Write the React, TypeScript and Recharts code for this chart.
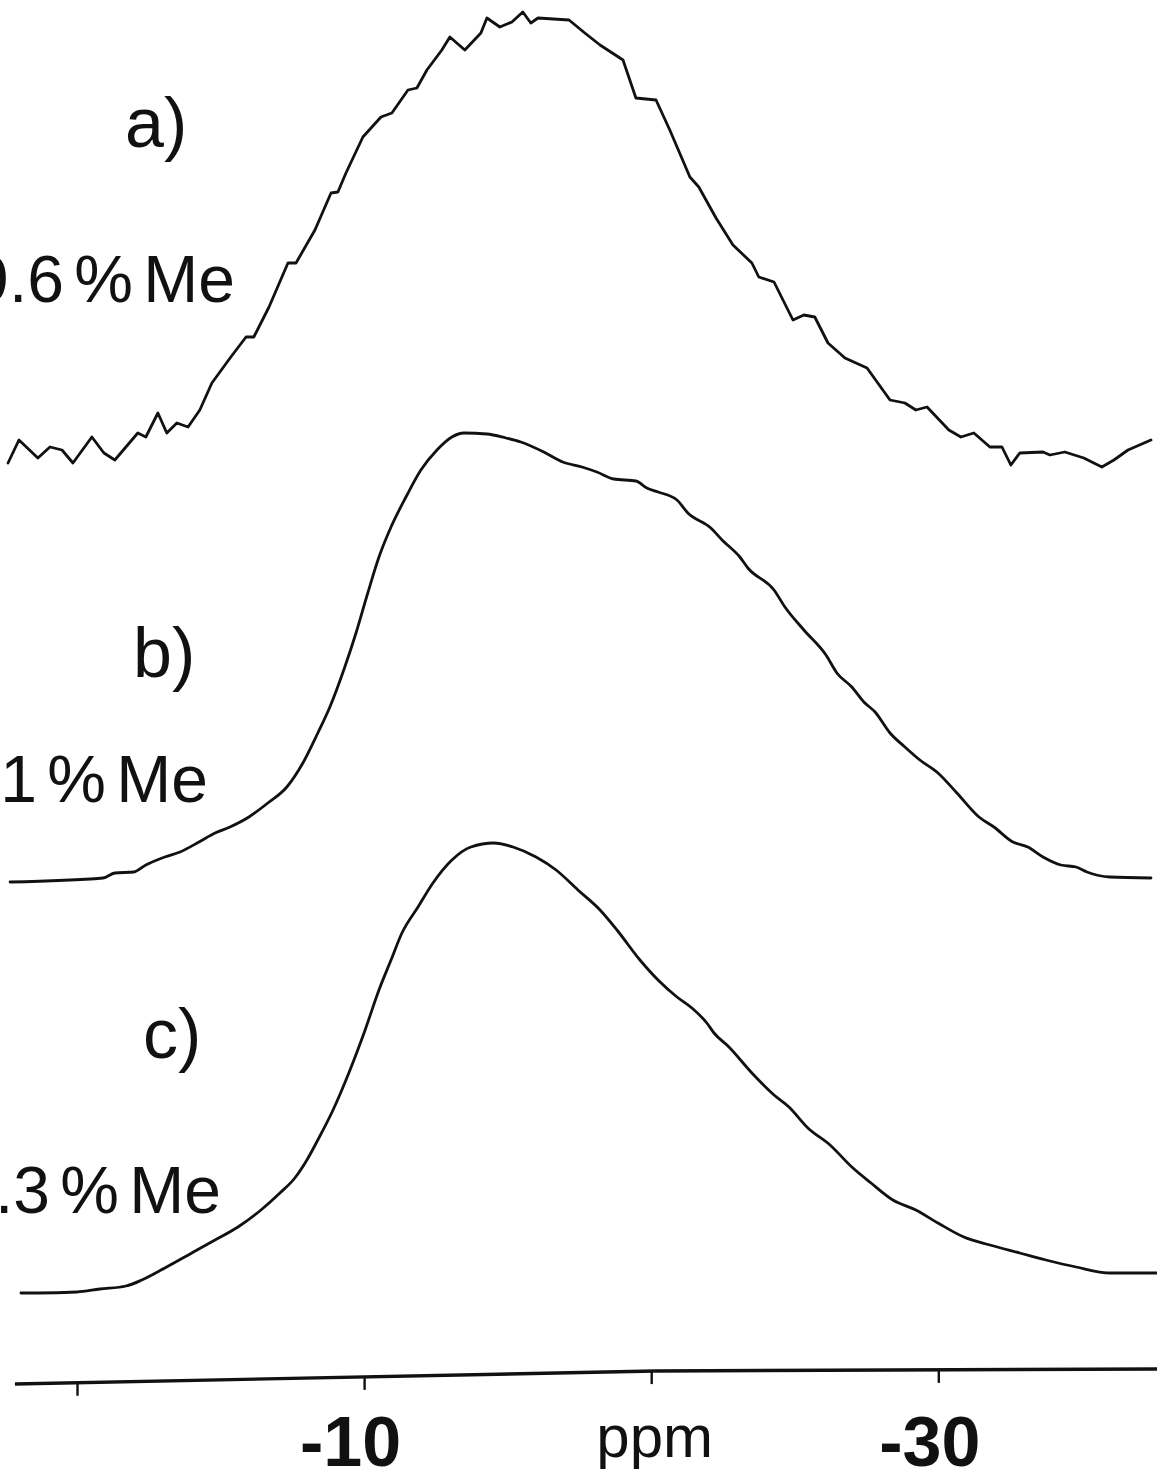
import { LineChart, Line, XAxis, YAxis, ReferenceLine, Customized } from "recharts"

// chemical shift (ppm) and trace height for each spectrum, left to right
const A_PPM = [2.42, 2.04, 1.38, 0.96, 0.54, 0.16, -0.5, -0.92, -1.3, -2.1, -2.38, -2.8, -3.11, -3.46, -3.85, -4.26, -4.68, -5.34, -5.87, -6.14, -6.67, -7.33, -7.61, -8.27, -8.83, -9.07, -9.35, -9.94, -10.57, -10.95, -11.51, -11.82, -12.17, -12.69, -12.97, -13.49, -14.05, -14.26, -14.71, -15.13, -15.51, -15.79, -16.04, -17.12, -17.67, -18.2, -19.0, -19.45, -20.15, -20.63, -21.33, -21.64, -22.24, -22.83, -23.49, -23.73, -24.26, -24.92, -25.3, -25.68, -26.14, -26.73, -27.5, -28.3, -28.82, -29.2, -29.59, -30.35, -30.77, -31.22, -31.78, -32.2, -32.51, -32.82, -33.63, -33.87, -34.39, -35.05, -35.68, -36.1, -36.59, -37.39]
const A_INT = [-8, 15, -3, 8, 5, -8, 18, 2, -5, 22, 18, 42, 22, 32, 28, 45, 72, 98, 118, 118, 148, 192, 192, 225, 262, 263, 282, 318, 338, 342, 365, 367, 385, 405, 418, 405, 422, 437, 428, 433, 443, 432, 437, 435, 422, 410, 395, 357, 355, 325, 278, 268, 237, 210, 192, 178, 173, 135, 140, 138, 112, 97, 87, 55, 52, 45, 48, 25, 18, 22, 8, 8, -10, 2, 3, 0, 3, -3, -12, -5, 5, 15]

const B_PPM = [2.35, -0.89, -1.3, -1.96, -2.38, -3.04, -3.57, -4.23, -4.79, -5.31, -5.97, -6.63, -7.29, -7.85, -8.37, -8.79, -9.31, -9.7, -10.11, -10.5, -10.92, -11.44, -11.96, -12.52, -13.04, -13.46, -14.26, -14.92, -15.44, -16.24, -16.9, -17.57, -18.09, -18.68, -19.45, -19.83, -20.22, -20.88, -21.26, -22.06, -22.45, -23.07, -23.35, -24.26, -24.64, -25.3, -26.07, -26.45, -26.97, -27.39, -27.78, -28.3, -28.82, -29.34, -29.97, -30.63, -31.4, -31.92, -32.58, -33.1, -33.63, -34.25, -34.78, -35.16, -35.96, -37.39]
const B_INT = [-2, 2, 7, 8, 15, 23, 28, 38, 47, 53, 63, 77, 93, 117, 147, 173, 213, 247, 287, 323, 353, 383, 410, 430, 443, 447, 446, 442, 438, 428, 418, 413, 408, 401, 399, 392, 388, 380, 367, 352, 340, 323, 312, 290, 273, 250, 225, 207, 193, 178, 168, 147, 133, 120, 107, 87, 63, 53, 38, 33, 23, 15, 13, 8, 3, 2]

const C_PPM = [1.97, 1.38, 0.02, -0.78, -1.69, -2.24, -3.04, -3.98, -4.79, -5.59, -6.39, -7.05, -7.57, -7.99, -8.37, -8.9, -9.45, -9.98, -10.5, -10.92, -11.3, -11.86, -12.38, -13.04, -13.7, -14.5, -15.17, -15.97, -16.67, -17.43, -18.2, -18.79, -19.59, -20.22, -20.88, -21.4, -21.92, -22.17, -22.69, -23.49, -24.26, -24.78, -25.44, -26.21, -26.97, -27.64, -28.4, -29.2, -29.97, -30.87, -31.78, -32.82, -33.73, -34.78, -35.96, -37.6]
const C_INT = [0, 0, 1, 4, 7, 13, 25, 40, 53, 66, 83, 100, 115, 133, 153, 183, 220, 260, 303, 333, 360, 386, 410, 433, 446, 450, 446, 436, 423, 403, 383, 363, 333, 313, 296, 285, 270, 260, 246, 220, 198, 186, 165, 148, 126, 110, 93, 83, 70, 56, 48, 40, 33, 26, 20, 20]

const TRACE_TAGS = ["a)", "b)", "c)"]
const TRACE_NAMES = ["9.6 % Me", "6.1 % Me", "3.3 % Me"]

const TICK_VALUES = [0, -10, -20, -30]
const TICK_LABELS = ["", "-10", "ppm", "-30"]

// hand-ruled shift axis, sagging a little towards the left
const AXIS_PPM = [2.18, -20.11, -37.6]
const AXIS_LEVEL = [25, 38, 40]

const W = 1157
const H = 1479
const AXIS_H = 70
const PLOT_BOTTOM = H - AXIS_H
// vertical stacking of the three spectra
const OFFSETS = [954, 529, 116]

const FONT = "'Liberation Sans', Arial, sans-serif"

const stack = (ppm: number[], int: number[], off: number) =>
  ppm.map((p, i) => ({ ppm: p, v: int[i] + off }))

const traceA = stack(A_PPM, A_INT, OFFSETS[0])
const traceB = stack(B_PPM, B_INT, OFFSETS[1])
const traceC = stack(C_PPM, C_INT, OFFSETS[2])

function axisLevelAt(ppm: number) {
  for (let i = 0; i < AXIS_PPM.length - 1; i++) {
    const p0 = AXIS_PPM[i]
    const p1 = AXIS_PPM[i + 1]
    if (ppm <= p0 && ppm >= p1) {
      const t = (ppm - p0) / (p1 - p0)
      return AXIS_LEVEL[i] + t * (AXIS_LEVEL[i + 1] - AXIS_LEVEL[i])
    }
  }
  return AXIS_LEVEL[AXIS_LEVEL.length - 1]
}

function PpmTick(props: any) {
  const { x, y, payload } = props
  const idx = TICK_VALUES.indexOf(payload.value)
  const label = TICK_LABELS[idx] ?? ""
  const top = y - axisLevelAt(payload.value)
  const isUnit = label === "ppm"
  const dx = isUnit ? 3 : label === "-10" ? -14 : -9
  return (
    <g>
      <line x1={x} x2={x} y1={top} y2={top + 13} stroke="#111" strokeWidth={2.4} />
      {label && (
        <text
          x={x + dx}
          y={isUnit ? y + 48 : y + 57}
          textAnchor="middle"
          fontFamily={FONT}
          fontWeight={isUnit ? 400 : 700}
          fontSize={isUnit ? 60 : 70}
          fill="#111"
        >
          {label}
        </text>
      )}
    </g>
  )
}

function TraceLabels() {
  const tagPos = [
    [125, 147],
    [133, 677],
    [143, 1058],
  ]
  const namePos = [
    [235, 302],
    [208, 802],
    [221, 1213],
  ]
  return (
    <g fontFamily={FONT} fill="#111">
      {TRACE_TAGS.map((t, i) => (
        <text key={t} x={tagPos[i][0]} y={tagPos[i][1]} fontSize={70}>
          {t}
        </text>
      ))}
      {TRACE_NAMES.map((n, i) => (
        <text key={n} x={namePos[i][0]} y={namePos[i][1]} fontSize={66} textAnchor="end" wordSpacing={-8}>
          {n}
        </text>
      ))}
    </g>
  )
}

const lineStyle = {
  stroke: "#111",
  strokeWidth: 2.8,
  strokeLinecap: "round" as const,
  strokeLinejoin: "round" as const,
  dot: false,
  activeDot: false,
  isAnimationActive: false,
}

export default function App() {
  return (
    <div style={{ position: "absolute", left: 0, top: 0, width: W, height: H, background: "#fff" }}>
      <LineChart width={W} height={H} margin={{ top: 0, right: 0, bottom: 0, left: 0 }}>
        <XAxis
          type="number"
          dataKey="ppm"
          domain={[-37.6, 2.7]}
          reversed
          allowDataOverflow
          ticks={TICK_VALUES}
          interval={0}
          height={AXIS_H}
          axisLine={false}
          tickLine={false}
          tickSize={0}
          tickMargin={0}
          tick={<PpmTick />}
        />
        <YAxis type="number" domain={[0, PLOT_BOTTOM]} hide allowDataOverflow />
        <ReferenceLine
          segment={[
            { x: AXIS_PPM[0], y: AXIS_LEVEL[0] },
            { x: AXIS_PPM[1], y: AXIS_LEVEL[1] },
          ]}
          stroke="#111"
          strokeWidth={3.4}
        />
        <ReferenceLine
          segment={[
            { x: AXIS_PPM[1], y: AXIS_LEVEL[1] },
            { x: AXIS_PPM[2], y: AXIS_LEVEL[2] },
          ]}
          stroke="#111"
          strokeWidth={3.4}
        />
        <Line data={traceA} dataKey="v" type="linear" {...lineStyle} />
        <Line data={traceB} dataKey="v" type="monotone" {...lineStyle} />
        <Line data={traceC} dataKey="v" type="monotone" {...lineStyle} />
        <Customized component={TraceLabels} />
      </LineChart>
    </div>
  )
}
